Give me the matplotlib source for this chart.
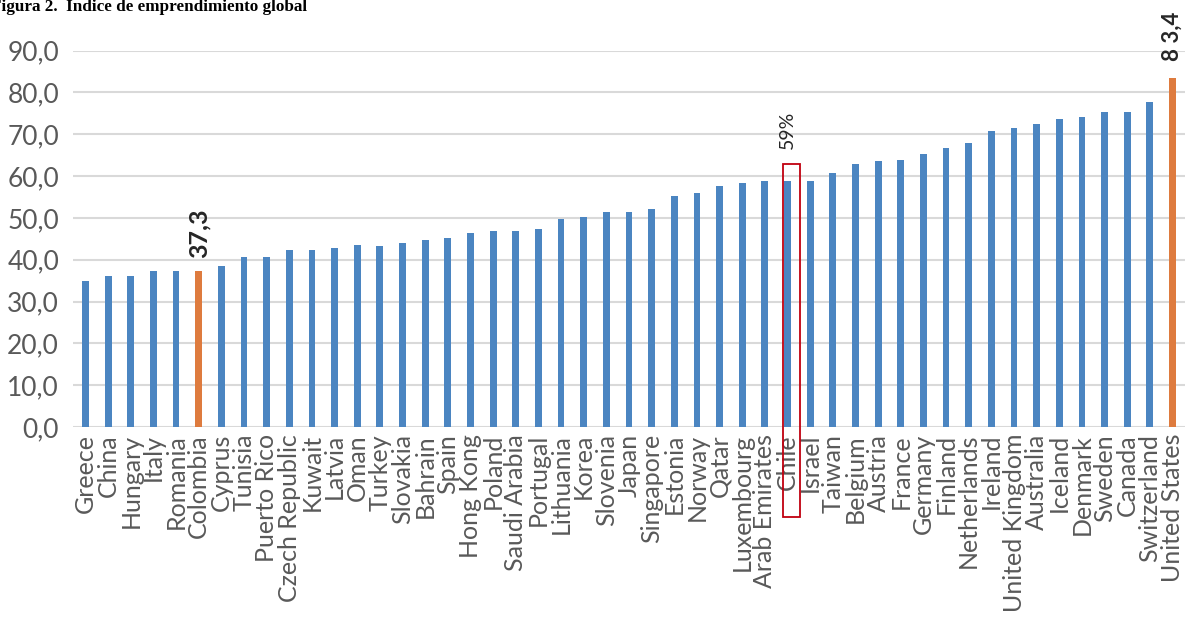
import matplotlib
matplotlib.use("Agg")
import matplotlib.pyplot as plt
from matplotlib.patches import Rectangle

# Índice de emprendimiento global (GEI), ordenado de menor a mayor
paises = ["Greece", "China", "Hungary", "Italy", "Romania", "Colombia", "Cyprus",
          "Tunisia", "Puerto Rico", "Czech Republic", "Kuwait", "Latvia", "Oman",
          "Turkey", "Slovakia", "Bahrain", "Spain", "Hong Kong", "Poland",
          "Saudi Arabia", "Portugal", "Lithuania", "Korea", "Slovenia", "Japan",
          "Singapore", "Estonia", "Norway", "Qatar", "Luxembourg", "Arab Emirates",
          "Chile", "Israel", "Taiwan", "Belgium", "Austria", "France", "Germany",
          "Finland", "Netherlands", "Ireland", "United Kingdom", "Australia",
          "Iceland", "Denmark", "Sweden", "Canada", "Switzerland", "United States"]
valores = [34.9, 36.0, 36.0, 37.2, 37.2, 37.3, 38.4, 40.6, 40.6, 42.3, 42.3, 42.8,
           43.4, 43.3, 43.9, 44.6, 45.1, 46.3, 46.9, 46.9, 47.4, 49.7, 50.1, 51.3,
           51.3, 52.0, 55.3, 55.9, 57.6, 58.3, 58.7, 58.9, 58.9, 60.7, 62.9, 63.5,
           63.9, 65.2, 66.8, 67.9, 70.8, 71.5, 72.5, 73.7, 74.2, 75.3, 75.3, 77.7,
           83.4]
destacados = ["Colombia", "United States"]
etiquetas_y = [0, 10, 20, 30, 40, 50, 60, 70, 80, 90]

azul = "#4b85c1"
naranja = "#de7b3e"
gris = "#595959"
fuente = "Lato"

colores = [naranja if p in destacados else azul for p in paises]
x = list(range(len(paises)))

fig = plt.figure(figsize=(11.93, 6.25), dpi=100)
ax = fig.add_axes([73 / 1193, 1 - 427 / 625, (1185 - 73) / 1193, (427 - 50.5) / 625])

ax.bar(x, valores, width=0.3, color=colores, zorder=3)

ax.set_xlim(-0.55, len(paises) - 0.45)
ax.set_ylim(0, 90)
ax.set_yticks(etiquetas_y)
ax.set_yticklabels([f"{v:.1f}".replace(".", ",") for v in etiquetas_y],
                   fontfamily=fuente, fontsize=19, color=gris)
ax.set_xticks(x)
ax.set_xticklabels(paises, rotation=90, fontfamily=fuente, fontsize=18,
                   color=gris)
ax.tick_params(length=0)
ax.tick_params(axis="y", pad=10)
ax.tick_params(axis="x", pad=5)
ax.yaxis.grid(True, color="#d9d9d9", lw=1.5, zorder=0)
ax.set_axisbelow(True)
for s in ax.spines.values():
    s.set_visible(False)

# etiquetas de valor
i_col = paises.index("Colombia")
ax.text(i_col, 40.5, "37,3", rotation=90, ha="center", va="bottom",
        fontfamily=fuente, fontsize=18, fontweight="bold", color="#262626")
i_us = paises.index("United States")
ax.text(i_us, 87.5, "8 3,4", rotation=90, ha="center", va="bottom",
        fontfamily=fuente, fontsize=16, fontweight="bold", color="#262626",
        clip_on=False)
i_cl = paises.index("Chile")
ax.text(i_cl, 66.5, "59%", rotation=90, ha="center", va="bottom",
        fontfamily=fuente, fontsize=14, color="#262626")

# recuadro rojo sobre Chile
ax.add_patch(Rectangle((i_cl - 0.22, -21.5), 0.75, 62.9 + 21.5, fill=False,
                       edgecolor="#c0000f", lw=1.3, clip_on=False, zorder=4))

fig.text(-9 / 1193, 1 - 11 / 625, "Figura 2.  Índice de emprendimiento global",
         fontfamily="Liberation Serif", fontweight="bold", fontsize=12.3,
         va="baseline", ha="left")

fig.savefig("out.png", dpi=100, facecolor="white")
